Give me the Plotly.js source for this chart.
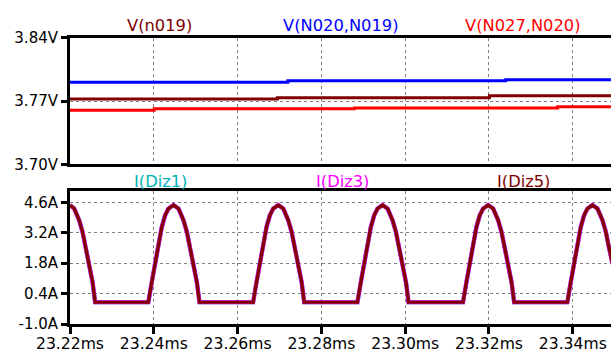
<!DOCTYPE html>
<html>
<head>
<meta charset="utf-8">
<script src="https://cdn.plot.ly/plotly-3.0.1.min.js"></script>
<style>html,body{margin:0;padding:0;background:#fff;}#chart{width:611px;height:351px;}</style>
</head>
<body>
<div id="chart"></div>
<script>
// ---- data ----
// top pane: voltages (V), step-like traces
const tBlue = [23.22, 23.2720, 23.3240, 23.3491];
const vN020_N019 = [3.7907, 3.7925, 3.7936, 3.7936];
const tDark = [23.22, 23.2695, 23.3201, 23.3491];
const vN019 = [3.7722, 3.7737, 3.7759, 3.7759];
const tRed = [23.22, 23.2401, 23.2879, 23.3364, 23.3491];
const vN027_N020 = [3.7597, 3.7615, 3.7622, 3.7637, 3.7637];

// bottom pane: diode currents (A), all three overlap
const tI = [
  23.2200, 23.2210, 23.2222, 23.2230, 23.2238, 23.2246, 23.2254, 23.2260,
  23.2387, 23.2395, 23.2403, 23.2411, 23.2419, 23.2427, 23.2435, 23.2447, 23.2459, 23.2471, 23.2479, 23.2487, 23.2495, 23.2503, 23.2509,
  23.2637, 23.2645, 23.2653, 23.2661, 23.2669, 23.2677, 23.2685, 23.2697, 23.2709, 23.2721, 23.2729, 23.2737, 23.2745, 23.2753, 23.2759,
  23.2886, 23.2894, 23.2902, 23.2910, 23.2918, 23.2926, 23.2934, 23.2946, 23.2958, 23.2970, 23.2978, 23.2986, 23.2994, 23.3002, 23.3008,
  23.3138, 23.3146, 23.3154, 23.3162, 23.3170, 23.3178, 23.3186, 23.3198, 23.3210, 23.3222, 23.3230, 23.3238, 23.3246, 23.3254, 23.3260,
  23.3387, 23.3395, 23.3403, 23.3411, 23.3419, 23.3427, 23.3435, 23.3447, 23.3459, 23.3471, 23.3479, 23.3487, 23.3495
];
const iDiz = [
  4.47, 4.31, 3.77, 3.23, 2.46, 1.76, 0.91, 0,
  0, 0.91, 1.76, 2.61, 3.46, 4.00, 4.31, 4.47, 4.31, 3.77, 3.23, 2.46, 1.76, 0.91, 0,
  0, 0.91, 1.76, 2.61, 3.46, 4.00, 4.31, 4.47, 4.31, 3.77, 3.23, 2.46, 1.76, 0.91, 0,
  0, 0.91, 1.76, 2.61, 3.46, 4.00, 4.31, 4.47, 4.31, 3.77, 3.23, 2.46, 1.76, 0.91, 0,
  0, 0.91, 1.76, 2.61, 3.46, 4.00, 4.31, 4.47, 4.31, 3.77, 3.23, 2.46, 1.76, 0.91, 0,
  0, 0.91, 1.76, 2.61, 3.46, 4.00, 4.31, 4.47, 4.31, 3.77, 3.23, 2.46, 1.76
];

const xTicks = [23.22, 23.24, 23.26, 23.28, 23.30, 23.32, 23.34];
const xTickText = ['23.22ms', '23.24ms', '23.26ms', '23.28ms', '23.30ms', '23.32ms', '23.34ms'];
const vTicks = [3.70, 3.77, 3.84];
const vTickText = ['3.70V', '3.77V', '3.84V'];
const iTicks = [-1.0, 0.4, 1.8, 3.2, 4.6];
const iTickText = ['-1.0A', '0.4A', '1.8A', '3.2A', '4.6A'];

// ---- plot ----
const W = 611, H = 351;
const xRange = [23.22, 23.34912];
const fam = 'DejaVu Sans, Verdana, sans-serif';
const yFont = {family: fam, size: 15, color: '#000'};
const xFont = {family: fam, size: 15.6, color: '#000'};

const traces = [
  {x: tDark, y: vN019, xaxis: 'x2', yaxis: 'y2', mode: 'lines', line: {color: '#800000', width: 3, shape: 'hv'}, name: 'V(n019)'},
  {x: tBlue, y: vN020_N019, xaxis: 'x2', yaxis: 'y2', mode: 'lines', line: {color: '#0000ff', width: 3, shape: 'hv'}, name: 'V(N020,N019)'},
  {x: tRed, y: vN027_N020, xaxis: 'x2', yaxis: 'y2', mode: 'lines', line: {color: '#ff0000', width: 3, shape: 'hv'}, name: 'V(N027,N020)'},
  {x: tI, y: iDiz, xaxis: 'x', yaxis: 'y', mode: 'lines', line: {color: 'rgb(0,180,180)', width: 4.2}, name: 'I(Diz1)'},
  {x: tI, y: iDiz, xaxis: 'x', yaxis: 'y', mode: 'lines', line: {color: '#ff00ff', width: 4.2}, name: 'I(Diz3)'},
  {x: tI, y: iDiz, xaxis: 'x', yaxis: 'y', mode: 'lines', line: {color: '#800000', width: 3.2}, name: 'I(Diz5)'}
];

const gridCommon = {showgrid: true, gridcolor: '#808080', gridwidth: 1, griddash: '3px,3px', zeroline: false,
  showline: true, linecolor: '#000', linewidth: 3};

const layout = {
  width: W, height: H,
  margin: {l: 0, r: 0, t: 0, b: 0},
  paper_bgcolor: '#fff', plot_bgcolor: '#fff',
  showlegend: false,
  font: yFont,
  xaxis: Object.assign({}, gridCommon, {
    domain: [70 / W, 1], range: xRange, anchor: 'y', mirror: true,
    tickmode: 'array', tickvals: xTicks, ticktext: xTickText,
    ticks: 'outside', ticklen: 7, tickwidth: 3, tickcolor: '#000', tickfont: xFont,
    ticklabelstandoff: -4
  }),
  xaxis2: Object.assign({}, gridCommon, {
    domain: [70 / W, 1], range: xRange, anchor: 'y2', mirror: true,
    tickmode: 'array', tickvals: xTicks, showticklabels: false, ticks: ''
  }),
  yaxis: Object.assign({}, gridCommon, {
    domain: [1 - 324 / H, 1 - 191 / H], range: [-1.0, 5.12], anchor: 'x',
    tickmode: 'array', tickvals: iTicks, ticktext: iTickText,
    ticks: 'outside', ticklen: 6, tickwidth: 3, tickcolor: '#000', tickfont: yFont
  }),
  yaxis2: Object.assign({}, gridCommon, {
    domain: [1 - 164.3 / H, 1 - 37.7 / H], range: [3.70, 3.84], anchor: 'x2',
    tickmode: 'array', tickvals: vTicks, ticktext: vTickText,
    ticks: 'outside', ticklen: 6, tickwidth: 3, tickcolor: '#000', tickfont: yFont
  }),
  annotations: [
    {text: 'V(n019)', x: 159 / W, y: 1 - 25 / H, color: '#800000'},
    {text: 'V(N020,N019)', x: 341 / W, y: 1 - 25 / H, color: '#0000ff'},
    {text: 'V(N027,N020)', x: 523 / W, y: 1 - 25 / H, color: '#ff0000'},
    {text: 'I(Diz1)', x: 160 / W, y: 1 - 181 / H, color: 'rgb(0,180,180)'},
    {text: 'I(Diz3)', x: 342 / W, y: 1 - 181 / H, color: '#ff00ff'},
    {text: 'I(Diz5)', x: 523 / W, y: 1 - 181 / H, color: '#800000'}
  ].map(a => ({
    text: a.text, x: a.x, y: a.y, xref: 'paper', yref: 'paper',
    xanchor: 'center', yanchor: 'middle', showarrow: false,
    font: {family: fam, size: 16.3, color: a.color}
  }))
};

Plotly.newPlot('chart', traces, layout, {staticPlot: true, displayModeBar: false});
</script>
</body>
</html>
